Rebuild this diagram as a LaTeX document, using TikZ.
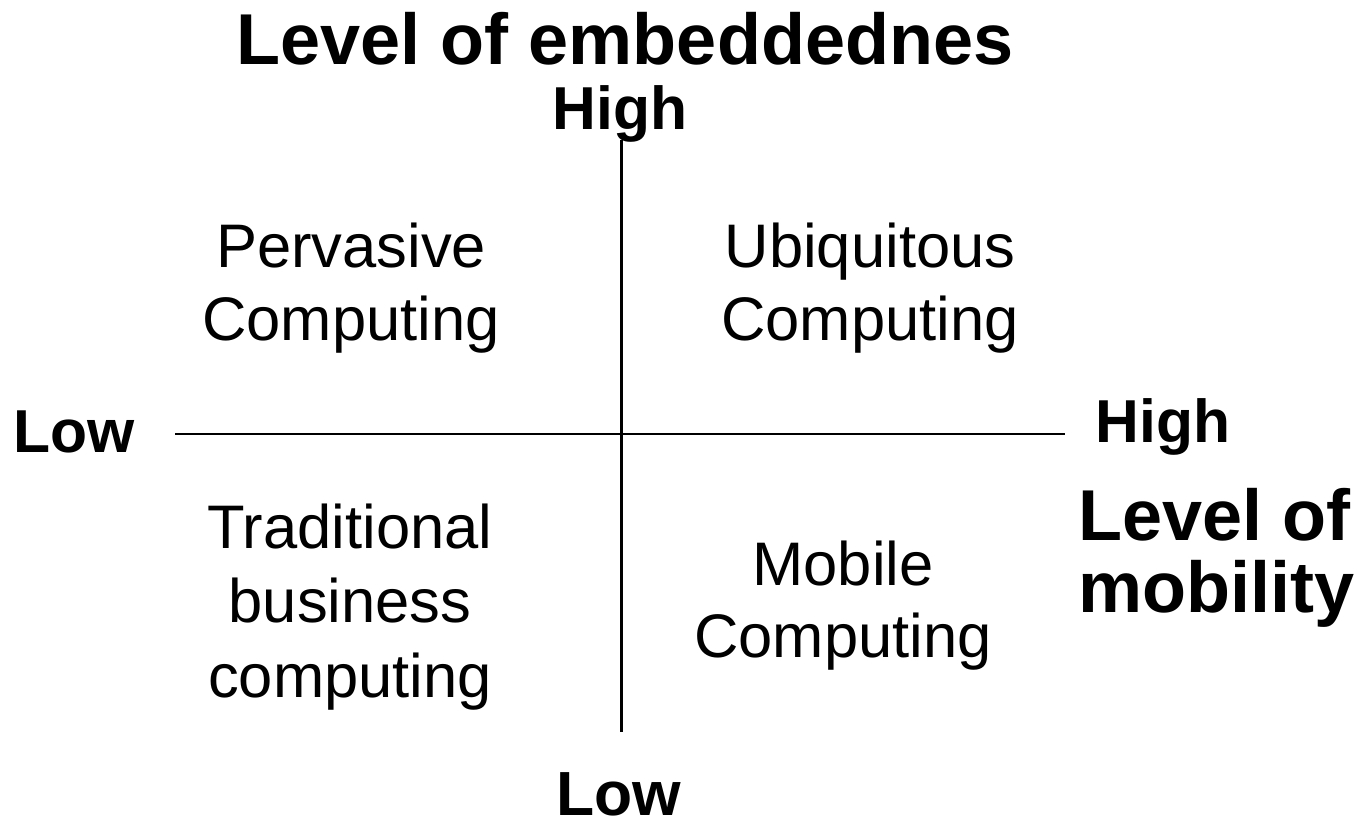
\documentclass[tikz,border=0pt]{standalone}
\usepackage{fontspec}
\setmainfont{Liberation Sans}
\begin{document}
\begin{tikzpicture}[x=0.02cm,y=-0.02cm,
  lbl/.style={inner sep=0pt,anchor=base,font=\fontsize{35}{41}\selectfont},
  axlbl/.style={inner sep=0pt,anchor=base,font=\bfseries\fontsize{34.5}{40}\selectfont},
  title/.style={inner sep=0pt,anchor=base,font=\bfseries\fontsize{41}{48}\selectfont},
  axis/.style={line width=1.7pt,black}]
\useasboundingbox (0,0) rectangle (1358,827);
% axes
\coordinate (vt) at (621,140);
\coordinate (vb) at (621,732);
\coordinate (hl) at (175,434);
\coordinate (hr) at (1065,434);
\draw[axis] (vt) -- (vb);
\draw[axis] (hl) -- (hr);
% titles and axis labels
\node[title] (ttl) at (625,65) {Level of embeddednes};
\node[axlbl] (hightop) at (620,130) {High};
\node[axlbl,font=\bfseries\fontsize{35.5}{40}\selectfont] (lowbot) at (619,815) {Low};
\node[axlbl] (lowleft) at (74,452) {Low};
\node[axlbl] (highright) at (1163,442) {High};
\node[title,anchor=base west] (mob1) at (1078,540) {Level of};
\node[title,anchor=base west] (mob2) at (1078,612) {mobility};
% quadrants
\node[lbl] (pc1) at (351,268) {Pervasive};
\node[lbl] (pc2) at (351,340) {Computing};
\node[lbl] (uc1) at (870,268) {Ubiquitous};
\node[lbl] (uc2) at (870,340) {Computing};
\node[lbl] (tb1) at (350,548) {Traditional};
\node[lbl] (tb2) at (350,622) {business};
\node[lbl] (tb3) at (350,697) {computing};
\node[lbl] (mc1) at (843,585) {Mobile};
\node[lbl] (mc2) at (843,657) {Computing};
\end{tikzpicture}
\end{document}
